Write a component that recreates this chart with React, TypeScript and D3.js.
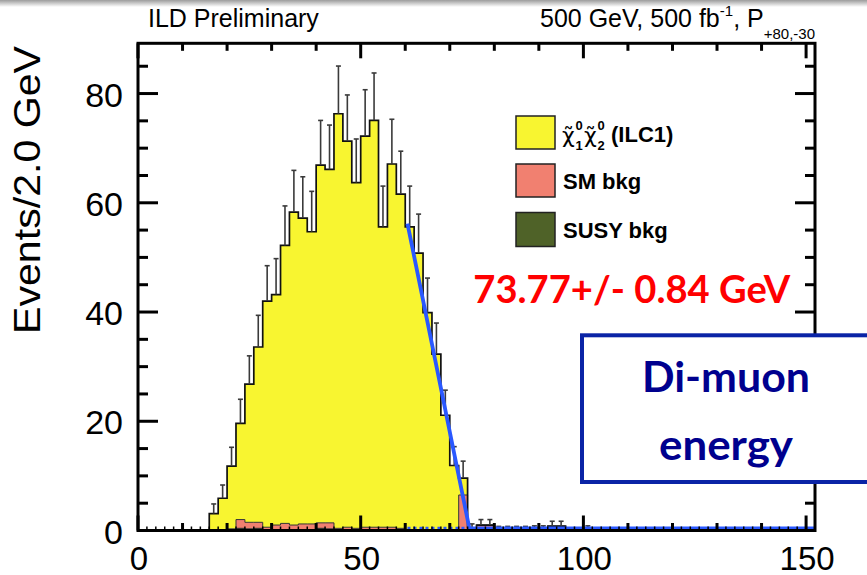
import React from 'react';
import * as d3 from 'd3';

// ---- data (2 GeV bins, low edges 16..150) ----
const binLow: number[] = d3.range(16, 152, 2);
const signalChi: number[] = [
  3.1, 5.9, 11.5, 17.6, 25.3, 32.1, 41.4, 42.2, 50.9, 57.3,
  56.0, 53.5, 65.5, 64.7, 75.9, 70.7, 63.3, 71.6, 74.5, 55.0,
  66.5, 61.2, 55.6, 50.8, 39.9, 32.3, 21.1, 11.9, 3.1, 0.3,
  0, 0, 0, 0, 0, 0, 0, 0, 0, 0,
  0, 0, 0, 0, 0, 0, 0, 0, 0, 0,
  0, 0, 0, 0, 0, 0, 0, 0, 0, 0,
  0, 0, 0, 0, 0, 0, 0, 0,
];
const smBkg: number[] = [
  0, 0, 0.3, 1.6, 1.2, 1.1, 0.5, 0.9, 1.2, 0.9,
  1.1, 1.1, 1.0, 1.1, 0.3, 0.5, 0.3, 0.5, 0.5, 0.5,
  0.5, 0.3, 0, 0, 0, 0, 0, 0, 6.5, 0.2,
  1.0, 1.0, 0.25, 0.25, 0.25, 0.25, 0.3, 0.3, 0.8, 0.8,
  0.1, 0.1, 0.3, 0.1, 0.1, 0.1, 0, 0.1, 0.1, 0,
  0.1, 0, 0.1, 0, 0.1, 0, 0, 0.1, 0, 0,
  0.1, 0, 0, 0, 0, 0.1, 0, 0,
];
const susyBkg: number[] = [
  0, 0, 0, 0.4, 0.3, 0.4, 0.1, 0.1, 0.1, 0.1,
  0.1, 0.1, 0.4, 0.3, 0.1, 0.1, 0.1, 0.1, 0.1, 0.1,
  0.1, 0.1, 0, 0, 0, 0, 0, 0, 0, 0,
  0, 0, 0, 0, 0, 0, 0, 0, 0, 0,
  0, 0, 0, 0, 0, 0, 0, 0, 0, 0,
  0, 0, 0, 0, 0, 0, 0, 0, 0, 0,
  0, 0, 0, 0, 0, 0, 0, 0,
];
const fitX: number[] = [60.5, 74.4, 152];
const fitY: number[] = [56.2, 0.4, 0.4];
const fitBgX: number[] = [60.5, 74.4];
const fitBgY: number[] = [0.4, 0.4];

const xMajor: number[] = [0, 50, 100, 150];
const yMajor: number[] = [0, 20, 40, 60, 80];

const BIN_W = 2;
const FONT = "'Liberation Sans', Arial, Helvetica, sans-serif";
const CAL = "Lato, 'Open Sans', sans-serif";
const YELLOW = '#f8f530';
const SALMON = '#f18070';
const OLIVE = '#4f6228';

export default function App() {
  const x = d3.scaleLinear().domain([0, 152]).range([138, 815]);
  const y = d3.scaleLinear().domain([0, 89.2]).range([530.5, 43.3]);

  const zeros = binLow.map(() => 0);
  const c1 = susyBkg.map((v) => v);
  const c2 = susyBkg.map((v, i) => v + smBkg[i]);
  const c3 = c2.map((v, i) => v + signalChi[i]);

  const stepPath = (cum: number[]) => {
    let p = `M${x(binLow[0])},${y(0)}`;
    cum.forEach((v, i) => {
      p += `L${x(binLow[i])},${y(v)}L${x(binLow[i] + BIN_W)},${y(v)}`;
    });
    p += `L${x(binLow[binLow.length - 1] + BIN_W)},${y(0)}`;
    return p;
  };

  const areaPath = (base: number[], top: number[]) => {
    let p = `M${x(binLow[0])},${y(base[0])}`;
    top.forEach((v, i) => {
      p += `L${x(binLow[i])},${y(v)}L${x(binLow[i] + BIN_W)},${y(v)}`;
    });
    for (let i = base.length - 1; i >= 0; i--) {
      p += `L${x(binLow[i] + BIN_W)},${y(base[i])}L${x(binLow[i])},${y(base[i])}`;
    }
    return p + 'Z';
  };

  const line = d3.line<number>().x((d, i) => x(fitX[i])).y((d) => y(d));
  const lineBg = d3.line<number>().x((d, i) => x(fitBgX[i])).y((d) => y(d));

  const xMinor = d3.range(0, 152, 10).filter((v) => v % 50 !== 0);
  const xTert = d3.range(0, 152, 2).filter((v) => v % 10 !== 0);
  const yMinor = d3.range(0, 90, 5).filter((v) => v % 20 !== 0);

  const [xl, xr] = x.range();
  const [yb, yt] = y.range();

  return (
    <svg width={867} height={575} style={{ position: 'absolute', left: 0, top: 0, background: '#fff' }}>
      <defs>
        <linearGradient id="topshade" x1="0" y1="0" x2="0" y2="1">
          <stop offset="0" stopColor="#9c9c9c" />
          <stop offset="1" stopColor="#ffffff" />
        </linearGradient>
      </defs>
      <rect x={0} y={0} width={867} height={575} fill="#fff" />
      <rect x={0} y={0} width={867} height={7} fill="url(#topshade)" />

      {/* stacked histogram */}
      <path d={areaPath(zeros, c1)} fill={OLIVE} stroke="none" />
      <path d={areaPath(c1, c2)} fill={SALMON} stroke="none" />
      <path d={areaPath(c2, c3)} fill={YELLOW} stroke="none" />
      <path d={stepPath(c1)} fill="none" stroke="#222" strokeWidth={1} />
      <path d={stepPath(c2)} fill="none" stroke="#333" strokeWidth={1} />
      <path d={stepPath(c3)} fill="none" stroke="#111" strokeWidth={1.7} />

      {/* error bars (upper halves visible) */}
      {binLow.map((lo, i) => {
        const t = c3[i];
        if (t <= 0) return null;
        const cx = x(lo + BIN_W / 2);
        const top = y(t + Math.sqrt(t));
        return (
          <g key={`e${i}`} stroke="#3a3a3a" strokeWidth={1.6}>
            <line x1={cx} x2={cx} y1={y(t)} y2={top} />
            <line x1={cx - 2.5} x2={cx + 2.5} y1={top} y2={top} />
          </g>
        );
      })}

      {/* fit */}
      <path d={lineBg(fitBgY) || ''} fill="none" stroke="#2a58ff" strokeWidth={3} strokeDasharray="3,3" />
      <path d={line(fitY) || ''} fill="none" stroke="#2a58ff" strokeWidth={3.8} strokeLinejoin="round" />

      {/* frame and ticks */}
      <g stroke="#000" strokeWidth={3}>
        {xMajor.map((v) => (
          <g key={`xm${v}`}>
            <line x1={x(v)} x2={x(v)} y1={yb} y2={yb - 15} />
            <line x1={x(v)} x2={x(v)} y1={yt} y2={yt + 15} />
          </g>
        ))}
        {xMinor.map((v) => (
          <g key={`xn${v}`}>
            <line x1={x(v)} x2={x(v)} y1={yb} y2={yb - 7.5} />
            <line x1={x(v)} x2={x(v)} y1={yt} y2={yt + 7.5} />
          </g>
        ))}
        {yMajor.map((v) => (
          <g key={`ym${v}`}>
            <line x1={xl} x2={xl + 20} y1={y(v)} y2={y(v)} />
            <line x1={xr} x2={xr - 20} y1={y(v)} y2={y(v)} />
          </g>
        ))}
        {yMinor.map((v) => (
          <g key={`yn${v}`}>
            <line x1={xl} x2={xl + 10} y1={y(v)} y2={y(v)} />
            <line x1={xr} x2={xr - 10} y1={y(v)} y2={y(v)} />
          </g>
        ))}
      </g>
      <g stroke="#000" strokeWidth={1.5}>
        {xTert.map((v) => (
          <line key={`xt${v}`} x1={x(v)} x2={x(v)} y1={yb} y2={yb - 4} />
        ))}
      </g>
      <rect x={xl} y={yt} width={xr - xl} height={yb - yt} fill="none" stroke="#000" strokeWidth={3} />

      {/* tick labels */}
      <g fontFamily={FONT} fontSize={34} fill="#000">
        {yMajor.map((v) => (
          <text key={`yl${v}`} x={123} y={y(v) + 13} textAnchor="end">{v}</text>
        ))}
        {xMajor.map((v) => (
          <text key={`xl${v}`} x={x(v) + 1} y={569.5} textAnchor="middle" fontSize={33}>{v}</text>
        ))}
      </g>
      <text
        transform="translate(40,46) rotate(-90)"
        textAnchor="end"
        fontFamily={FONT}
        fontSize={36}
        textLength={288}
        lengthAdjust="spacingAndGlyphs"
      >
        Events/2.0 GeV
      </text>

      {/* header */}
      <text x={148} y={27} fontFamily={FONT} fontSize={25}>ILD Preliminary</text>
      <text x={815} y={27} fontFamily={FONT} fontSize={25} textAnchor="end">
        500 GeV, 500 fb
        <tspan fontSize={15} dy={-11}>-1</tspan>
        <tspan dy={11}>, P</tspan>
        <tspan fontSize={15} dy={12}>+80,-30</tspan>
      </text>

      {/* legend */}
      <g stroke="#222" strokeWidth={1.5}>
        <rect x={516} y={116} width={39} height={33} fill={YELLOW} />
        <rect x={516} y={164} width={39} height={33} fill={SALMON} />
        <rect x={516} y={212.5} width={39} height={34} fill={OLIVE} />
      </g>
      <g fontFamily={FONT} fontWeight="bold" fontSize={22} fill="#000">
        <text x={562} y={143} fontSize={22} fontWeight="normal" fontFamily="'DejaVu Sans', sans-serif">{'\u03c7\u0303'}</text>
        <text x={575.5} y={130} fontSize={13}>0</text>
        <text x={575.5} y={150} fontSize={13}>1</text>
        <text x={584} y={143} fontSize={22} fontWeight="normal" fontFamily="'DejaVu Sans', sans-serif">{'\u03c7\u0303'}</text>
        <text x={597.5} y={130} fontSize={13}>0</text>
        <text x={597.5} y={150} fontSize={13}>2</text>
        <text x={611} y={142}>(ILC1)</text>
        <text x={563} y={189}>SM bkg</text>
        <text x={563} y={238}>SUSY bkg</text>
      </g>

      {/* fit result */}
      <text
        x={473.3}
        y={302.7}
        fontFamily={CAL}
        fontWeight="bold"
        fontSize={38}
        fill="#ff0000"
        textLength={317}
        lengthAdjust="spacingAndGlyphs"
      >
        73.77+/- 0.84 GeV
      </text>

      {/* annotation box */}
      <rect x={582} y={335.3} width={300} height={146.7} fill="#fff" stroke="#0a24a6" strokeWidth={4} />
      <text
        x={726}
        y={391.7}
        textAnchor="middle"
        fontFamily={CAL}
        fontWeight="bold"
        fontSize={42}
        fill="#00008e"
        textLength={168}
        lengthAdjust="spacingAndGlyphs"
      >
        Di-muon
      </text>
      <text
        x={726}
        y={460}
        textAnchor="middle"
        fontFamily={CAL}
        fontWeight="bold"
        fontSize={42}
        fill="#00008e"
        textLength={134}
        lengthAdjust="spacingAndGlyphs"
      >
        energy
      </text>
    </svg>
  );
}
